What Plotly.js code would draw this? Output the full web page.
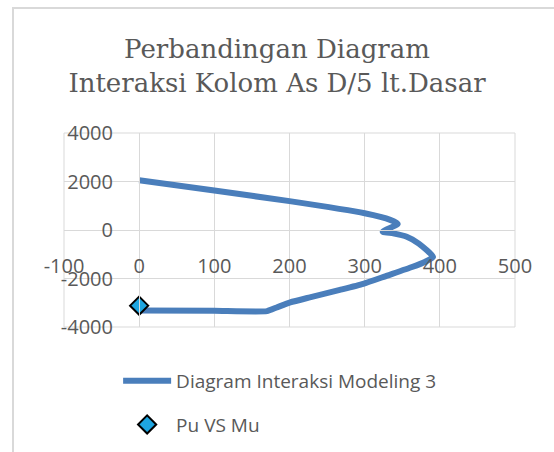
<!DOCTYPE html>
<html><head><meta charset="utf-8">
<script src="https://cdn.plot.ly/plotly-3.0.1.min.js"></script>
<style>
html,body{margin:0;padding:0;background:#fff;}
#frame{position:absolute;left:12px;top:7px;width:560px;height:460px;border-left:2px solid #d9d9d9;border-top:2px solid #d9d9d9;}
#chart{position:absolute;left:0;top:0;width:554px;height:452px;}
</style></head>
<body>
<div id="frame"></div>
<div id="chart"></div>
<script>
// Interaction diagram (Mu, Pu)
const muCurve = [0, 100, 200, 300, 334, 344, 324, 338, 356, 372, 391, 380, 363, 330, 298, 267, 227, 201, 183, 170, 100, 0];
const puCurve = [2054, 1625, 1190, 690, 417, 250, -70, -139, -278, -560, -1110, -1320, -1528, -1880, -2222, -2472, -2778, -2986, -3194, -3345, -3333, -3320];
// Pu vs Mu point
const muPoint = [0];
const puPoint = [-3120];
const xTicks = [-100, 0, 100, 200, 300, 400, 500];
const yTicks = [-4000, -2000, 0, 2000, 4000];

const grey = '#595959';
const traces = [
  {x: muCurve, y: puCurve, type: 'scatter', mode: 'lines', name: 'Diagram Interaksi Modeling 3',
   legendgroup: 'a',
   line: {color: '#4a7ebb', width: 6, shape: 'spline', smoothing: 0.5}},
  {x: muPoint, y: puPoint, type: 'scatter', mode: 'markers', name: 'Pu VS Mu',
   legendgroup: 'b',
   marker: {symbol: 'diamond', size: 14, color: '#1ea5e0', line: {color: '#000', width: 2}}}
];
const W = 554, H = 452, L = 64, R = 515, T = 133, B = 327;
const layout = {
  width: W, height: H,
  margin: {l: L, r: W - R, t: T, b: H - B, pad: 0, autoexpand: false},
  paper_bgcolor: 'rgba(0,0,0,0)', plot_bgcolor: 'rgba(0,0,0,0)',
  font: {family: 'Open Sans, sans-serif', color: grey},
  title: {text: 'Perbandingan Diagram<br>Interaksi Kolom As D/5 lt.Dasar',
    font: {family: 'DejaVu Serif, serif', size: 26, color: grey},
    x: 0.5, xanchor: 'center', y: 0.871, yanchor: 'middle'},
  xaxis: {range: [-100, 500], tickvals: xTicks, ticktext: xTicks.map(String),
    anchor: 'free', position: (B - 230) / (B - T),
    showgrid: true, gridcolor: '#d9d9d9', gridwidth: 1,
    zeroline: false, showline: true, linecolor: '#d9d9d9', linewidth: 1,
    ticks: '', ticklabelstandoff: 18, tickfont: {size: 20, color: grey}, fixedrange: true},
  yaxis: {range: [-4000, 4000], tickvals: yTicks, ticktext: yTicks.map(String),
    anchor: 'free', position: (139 - L) / (R - L),
    showgrid: true, gridcolor: '#d9d9d9', gridwidth: 1,
    zeroline: false, showline: true, linecolor: '#d9d9d9', linewidth: 1,
    ticks: '', ticklabelstandoff: 22, tickfont: {size: 20, color: grey}, fixedrange: true},
  shapes: [
    {type: 'rect', xref: 'paper', yref: 'paper', x0: 0, x1: 1, y0: 0, y1: 1, line: {color: '#d9d9d9', width: 1}, layer: 'below'}
  ],
  showlegend: true,
  legend: {x: 0.12, xanchor: 'left', y: -0.18, yanchor: 'top', orientation: 'v',
    font: {size: 19, color: grey, family: 'Open Sans, sans-serif'},
    bgcolor: 'rgba(0,0,0,0)', itemwidth: 48, tracegroupgap: 16}
};
Plotly.newPlot('chart', traces, layout, {displayModeBar: false, staticPlot: true});
</script>
</body></html>
